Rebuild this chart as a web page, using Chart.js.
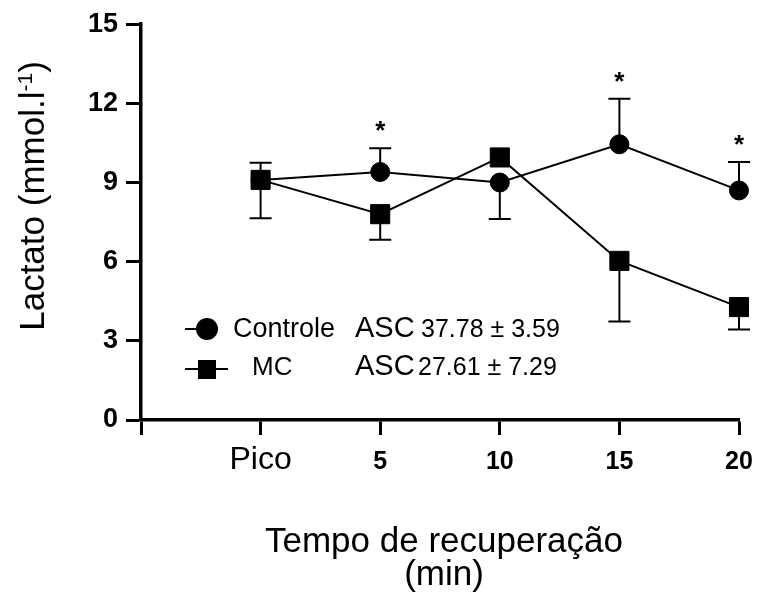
<!DOCTYPE html>
<html>
<head>
<meta charset="utf-8">
<script src="https://cdn.jsdelivr.net/npm/chart.js@4.4.1/dist/chart.umd.min.js"></script>
<style>
  html, body { margin: 0; padding: 0; background: #fff; }
</style>
</head>
<body>
<canvas id="lactato" width="758" height="608"></canvas>
<script>
// tempos de recuperação (posição no eixo x: 1..5, o 0 fica sem rótulo)
const tempos = ['Pico', '5', '10', '15', '20'];
const tempoPos = [1, 2, 3, 4, 5];
const xTickLabels = ['', 'Pico', '5', '10', '15', '20'];
const yTicks = [0, 3, 6, 9, 12, 15];

// lactato médio (mmol/l) e desvio (o sinal diz de que lado sai a barra)
const controle = [9.1, 9.4, 9.0, 10.45, 8.7];
const controleDP = [0.65, 0.9, -1.38, 1.72, 1.08];
const mc = [9.1, 7.8, 9.95, 6.03, 4.28];
const mcDP = [-1.45, -0.97, 0, -2.3, -0.85];

// diferença significativa (*) no controle
const asterisco = [false, true, false, true, true];
const ascTexto = ['37.78 ± 3.59', '27.61 ± 7.29'];

const fam = '"Liberation Sans", Arial, sans-serif';

const barrasErro = {
  id: 'barrasErro',
  beforeDatasetsDraw(chart) {
    const { ctx, scales: { x, y } } = chart;
    ctx.save();
    ctx.strokeStyle = '#000';
    ctx.lineWidth = 2;
    [[controle, controleDP], [mc, mcDP]].forEach(([vals, dp]) => {
      vals.forEach((v, i) => {
        if (!dp[i]) return;
        const px = x.getPixelForValue(tempoPos[i]);
        const y0 = y.getPixelForValue(v);
        const y1 = y.getPixelForValue(v + dp[i]);
        ctx.beginPath();
        ctx.moveTo(px, y0);
        ctx.lineTo(px, y1);
        ctx.moveTo(px - 11, y1);
        ctx.lineTo(px + 11, y1);
        ctx.stroke();
      });
    });
    ctx.restore();
  },
  afterDatasetsDraw(chart) {
    const { ctx, scales: { x, y } } = chart;
    ctx.save();
    ctx.fillStyle = '#000';
    ctx.font = 'bold 26px ' + fam;
    ctx.textAlign = 'center';
    ctx.textBaseline = 'alphabetic';
    controle.forEach((v, i) => {
      if (!asterisco[i]) return;
      const topo = y.getPixelForValue(v + Math.max(controleDP[i], 0));
      ctx.fillText('*', x.getPixelForValue(tempoPos[i]), topo - 9);
    });
    ctx.restore();
  }
};

const textos = {
  id: 'textos',
  afterDraw(chart) {
    const ctx = chart.ctx;
    ctx.save();
    ctx.fillStyle = '#000';
    ctx.strokeStyle = '#000';
    ctx.textBaseline = 'alphabetic';

    // título do eixo y com expoente
    ctx.translate(44, 196);
    ctx.rotate(-Math.PI / 2);
    const fMain = '35px ' + fam, fSup = '21px ' + fam;
    ctx.font = fMain;
    const a = 'Lactato (mmol.l', c = ')';
    const wa = ctx.measureText(a).width, wc = ctx.measureText(c).width;
    ctx.font = fSup;
    const wb = ctx.measureText('-1').width;
    let px = -(wa + wb + wc) / 2;
    ctx.font = fMain;
    ctx.textAlign = 'left';
    ctx.fillText(a, px, 0);
    ctx.font = fSup;
    ctx.fillText('-1', px + wa, -12);
    ctx.font = fMain;
    ctx.fillText(c, px + wa + wb, 0);
    ctx.setTransform(1, 0, 0, 1, 0, 0);

    // título do eixo x
    ctx.textAlign = 'center';
    ctx.font = '35px ' + fam;
    ctx.fillText('Tempo de recuperação', 444, 552);
    ctx.fillText('(min)', 444, 585);

    // legenda
    const ds = chart.data.datasets;
    ctx.lineWidth = 2;
    ctx.beginPath();
    ctx.moveTo(185, 329); ctx.lineTo(207, 329);
    ctx.moveTo(185, 369); ctx.lineTo(228, 369);
    ctx.stroke();
    ctx.beginPath();
    ctx.arc(207, 329, 11, 0, Math.PI * 2);
    ctx.fill();
    ctx.fillRect(198, 360, 18, 19);

    ctx.textAlign = 'left';
    ctx.font = '27px ' + fam;
    ctx.fillText(ds[0].label, 233, 337);
    ctx.font = '26px ' + fam;
    ctx.fillText(ds[1].label, 252, 375);
    [337, 375].forEach((yy, i) => {
      ctx.font = '29px ' + fam;
      ctx.fillText('ASC', 355, yy);
      ctx.font = '25px ' + fam;
      ctx.fillText(ascTexto[i], i === 0 ? 421 : 418, yy);
    });
    ctx.restore();
  }
};

new Chart(document.getElementById('lactato'), {
  type: 'line',
  data: {
    datasets: [
      {
        label: 'Controle',
        data: controle.map((v, i) => ({ x: tempoPos[i], y: v })),
        borderColor: '#000',
        borderWidth: 2,
        pointStyle: 'circle',
        pointRadius: 9.5,
        pointBorderWidth: 1,
        pointBackgroundColor: '#000',
        pointBorderColor: '#000',
        clip: false,
        order: 2
      },
      {
        label: 'MC',
        data: mc.map((v, i) => ({ x: tempoPos[i], y: v })),
        borderColor: '#000',
        borderWidth: 2,
        pointStyle: 'rect',
        pointRadius: 13.5,
        pointBorderWidth: 1,
        pointBackgroundColor: '#000',
        pointBorderColor: '#000',
        clip: false,
        order: 1
      }
    ]
  },
  options: {
    responsive: false,
    animation: false,
    layout: { padding: { left: 0, right: 19, top: 23, bottom: 0 } },
    plugins: { legend: { display: false }, tooltip: { enabled: false } },
    scales: {
      x: {
        type: 'linear',
        min: 0,
        max: 5,
        afterBuildTicks: s => { s.ticks = xTickLabels.map((t, i) => ({ value: i })); },
        afterFit: s => { s.height = 188; },
        ticks: {
          autoSkip: false,
          maxRotation: 0,
          padding: 4,
          color: '#000',
          callback: v => xTickLabels[v],
          font: c => (c.tick && c.tick.value === 1)
            ? { family: fam, size: 32, lineHeight: 1.31 }
            : { family: fam, size: 25, weight: 'bold', lineHeight: 1.86 }
        },
        grid: { drawOnChartArea: false, tickLength: 15, tickWidth: 3, tickColor: '#000' },
        border: { color: '#000', width: 3.5 }
      },
      y: {
        min: 0,
        max: 15,
        afterBuildTicks: s => { s.ticks = yTicks.map(v => ({ value: v })); },
        afterFit: s => { s.width = 141; },
        ticks: {
          padding: 8,
          color: '#000',
          font: { family: fam, size: 27, weight: 'bold' }
        },
        grid: { drawOnChartArea: false, tickLength: 15, tickWidth: 3, tickColor: '#000' },
        border: { color: '#000', width: 3.5 }
      }
    }
  },
  plugins: [barrasErro, textos]
});
</script>
</body>
</html>
